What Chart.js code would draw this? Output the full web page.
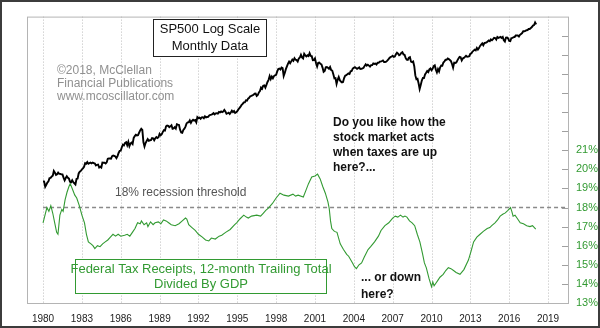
<!DOCTYPE html>
<html lang="en">
<head>
    <meta charset="UTF-8">
    <title>SP500 vs Federal Tax Receipts / GDP</title>
    <script src="https://cdn.jsdelivr.net/npm/chart.js"></script>
    <style>
        body { margin: 0; background: #fff; }
        #frame { width: 600px; height: 328px; box-sizing: border-box; border: 2px solid #3c3c3c; background: #fff; }
        canvas { display: block; }
    </style>
</head>
<body>
    <div id="frame">
        <canvas id="taxChart" width="596" height="324"></canvas>
    </div>

    <script>
        // S&P 500 month-end closes, Jan 1980 .. Feb 2018
        const spxStart = 1980;
        const spxMonthly = [
            114.2, 113.7, 102.1, 106.3, 111.2, 114.2, 121.7, 122.4, 125.5, 127.5, 140.5, 135.8,
            129.6, 131.3, 136.0, 132.8, 132.6, 131.2, 130.9, 122.8, 116.2, 121.9, 126.4, 122.6,
            120.4, 113.1, 112.0, 116.4, 111.9, 109.6, 107.1, 119.5, 120.4, 133.7, 138.5, 140.6,
            145.3, 148.1, 153.0, 164.4, 162.4, 168.1, 162.6, 164.4, 166.1, 163.6, 166.4, 164.9,
            163.4, 157.1, 159.2, 160.1, 150.6, 153.2, 150.7, 166.7, 166.1, 166.1, 163.6, 167.2,
            179.6, 181.2, 180.7, 179.8, 189.6, 191.9, 190.9, 188.6, 182.1, 189.8, 202.2, 211.3,
            211.8, 226.9, 238.9, 235.5, 247.4, 250.8, 236.1, 252.9, 231.3, 244.0, 249.2, 242.2,
            274.1, 284.2, 291.7, 288.4, 290.1, 304.0, 318.7, 329.8, 321.8, 251.8, 230.3, 247.1,
            257.1, 267.8, 258.9, 261.3, 262.2, 273.5, 272.0, 261.5, 271.9, 279.0, 273.7, 277.7,
            297.5, 288.9, 294.9, 309.6, 320.5, 318.0, 346.1, 351.5, 349.2, 340.4, 346.0, 353.4,
            329.1, 331.9, 339.9, 330.8, 361.2, 358.0, 356.2, 322.6, 306.1, 304.0, 322.2, 330.2,
            343.9, 367.1, 375.2, 375.3, 389.8, 371.2, 387.8, 395.4, 387.9, 392.5, 375.2, 417.1,
            408.8, 412.7, 403.7, 415.0, 415.4, 408.1, 424.2, 414.0, 417.8, 418.7, 431.4, 435.7,
            438.8, 443.4, 451.7, 440.2, 450.2, 450.5, 448.1, 463.6, 458.9, 467.8, 461.8, 466.5,
            481.6, 467.1, 445.8, 450.9, 456.5, 444.3, 458.3, 475.5, 462.7, 472.4, 453.7, 459.3,
            470.4, 487.4, 500.7, 514.7, 533.4, 544.8, 562.1, 561.9, 584.4, 581.5, 605.4, 615.9,
            636.0, 640.4, 645.5, 654.2, 669.1, 670.6, 640.0, 652.0, 687.3, 705.3, 757.0, 740.7,
            786.2, 790.8, 757.1, 801.3, 848.3, 885.1, 954.3, 899.5, 947.3, 914.6, 955.4, 970.4,
            980.3, 1049.3, 1101.8, 1111.8, 1090.8, 1133.8, 1120.7, 957.3, 1017.0, 1098.7, 1163.6, 1229.2,
            1279.6, 1238.3, 1286.4, 1335.2, 1301.8, 1372.7, 1328.7, 1320.4, 1282.7, 1362.9, 1388.9, 1469.3,
            1394.5, 1366.4, 1498.6, 1452.4, 1420.6, 1454.6, 1430.8, 1517.7, 1436.5, 1429.4, 1315.2, 1320.3,
            1366.0, 1239.9, 1160.3, 1249.5, 1255.8, 1224.4, 1211.2, 1133.6, 1040.9, 1059.8, 1139.5, 1148.1,
            1130.2, 1106.7, 1147.4, 1076.9, 1067.1, 989.8, 911.6, 916.1, 815.3, 885.8, 936.3, 879.8,
            855.7, 841.2, 848.2, 916.9, 963.6, 974.5, 990.3, 1008.0, 996.0, 1050.7, 1058.2, 1111.9,
            1131.1, 1144.9, 1126.2, 1107.3, 1120.7, 1140.8, 1101.7, 1104.2, 1114.6, 1130.2, 1173.8, 1211.9,
            1181.3, 1203.6, 1180.6, 1156.9, 1191.5, 1191.3, 1234.2, 1220.3, 1228.8, 1207.0, 1249.5, 1248.3,
            1280.1, 1280.7, 1294.8, 1310.6, 1270.1, 1270.2, 1276.7, 1303.8, 1335.9, 1377.9, 1400.6, 1418.3,
            1438.2, 1406.8, 1420.9, 1482.4, 1530.6, 1503.4, 1455.3, 1474.0, 1526.8, 1549.4, 1481.1, 1468.4,
            1378.6, 1330.6, 1322.7, 1385.6, 1400.4, 1280.0, 1267.4, 1282.8, 1166.4, 968.8, 896.2, 903.3,
            825.9, 735.1, 797.9, 872.8, 919.1, 919.3, 987.5, 1020.6, 1057.1, 1036.2, 1095.6, 1115.1,
            1073.9, 1104.5, 1169.4, 1186.7, 1089.4, 1030.7, 1101.6, 1049.3, 1141.2, 1183.3, 1180.6, 1257.6,
            1286.1, 1327.2, 1325.8, 1363.6, 1345.2, 1320.6, 1292.3, 1218.9, 1131.4, 1253.3, 1247.0, 1257.6,
            1312.4, 1365.7, 1408.5, 1397.9, 1310.3, 1362.2, 1379.3, 1406.6, 1440.7, 1412.2, 1416.2, 1426.2,
            1498.1, 1514.7, 1569.2, 1597.6, 1630.7, 1606.3, 1685.7, 1633.0, 1681.6, 1756.5, 1805.8, 1848.4,
            1782.6, 1859.5, 1872.3, 1884.0, 1923.6, 1960.2, 1930.7, 2003.4, 1972.3, 2018.1, 2067.6, 2058.9,
            1995.0, 2104.5, 2067.9, 2085.5, 2107.4, 2063.1, 2103.8, 1972.2, 1920.0, 2079.4, 2080.4, 2043.9,
            1940.2, 1932.2, 2059.7, 2065.3, 2097.0, 2098.9, 2173.6, 2171.0, 2168.3, 2126.2, 2198.8, 2238.8,
            2278.9, 2363.6, 2362.7, 2384.2, 2411.8, 2423.4, 2470.3, 2471.7, 2519.4, 2575.3, 2647.6, 2673.6,
            2823.8, 2713.8
        ];

        // Federal tax receipts (12-mo trailing) / GDP
        const taxDates = [
            1980.0, 1980.15, 1980.3, 1980.45, 1980.6, 1980.75, 1980.9, 1981.05, 1981.15, 1981.3,
            1981.45, 1981.55, 1981.7, 1981.85, 1982.0, 1982.1, 1982.25, 1982.45, 1982.6, 1982.8,
            1983.0, 1983.2, 1983.35, 1983.5, 1983.7, 1983.85, 1984.0, 1984.2, 1984.4, 1984.6,
            1984.8, 1985.0, 1985.2, 1985.4, 1985.6, 1985.8, 1986.0, 1986.3, 1986.5, 1986.7,
            1986.9, 1987.1, 1987.3, 1987.5, 1987.6, 1987.8, 1988.0, 1988.1, 1988.3, 1988.5,
            1988.65, 1988.9, 1989.1, 1989.3, 1989.5, 1989.7, 1989.9, 1990.2, 1990.5, 1990.75,
            1991.0, 1991.1, 1991.25, 1991.5, 1991.75, 1992.0, 1992.3, 1992.55, 1992.8, 1993.0,
            1993.3, 1993.6, 1993.8, 1994.1, 1994.45, 1994.8, 1994.95, 1995.2, 1995.5, 1995.7,
            1995.85, 1996.1, 1996.5, 1996.8, 1997.0, 1997.2, 1997.4, 1997.7, 1998.0, 1998.3,
            1998.6, 1998.95, 1999.3, 1999.5, 1999.7, 2000.1, 2000.3, 2000.5, 2000.75, 2001.0,
            2001.2, 2001.4, 2001.6, 2001.8, 2002.0, 2002.1, 2002.2, 2002.3, 2002.5, 2002.7,
            2002.95, 2003.2, 2003.45, 2003.6, 2003.9, 2004.05, 2004.2, 2004.4, 2004.6, 2004.8,
            2005.1, 2005.3, 2005.6, 2005.9, 2006.1, 2006.4, 2006.7, 2007.0, 2007.2, 2007.4,
            2007.6, 2007.8, 2007.95, 2008.1, 2008.3, 2008.5, 2008.7, 2008.9, 2009.1, 2009.3,
            2009.45, 2009.6, 2009.8, 2010.0, 2010.1, 2010.2, 2010.35, 2010.5, 2010.65, 2010.9,
            2011.1, 2011.3, 2011.5, 2011.7, 2011.9, 2012.2, 2012.5, 2012.85, 2013.05, 2013.25,
            2013.5, 2013.75, 2014.0, 2014.3, 2014.5, 2014.65, 2014.9, 2015.1, 2015.3, 2015.5,
            2015.7, 2015.9, 2016.1, 2016.2, 2016.3, 2016.45, 2016.6, 2016.85, 2017.1, 2017.35,
            2017.6, 2017.8, 2018.05
        ];
        const taxPct = [
            17.2, 17.6, 18.0, 17.8, 18.1, 17.7, 17.2, 16.7, 16.6, 17.6,
            17.9, 17.8, 18.4, 18.8, 19.1, 19.25, 19.0, 18.65, 18.5, 18.1,
            17.6, 17.2, 16.6, 16.2, 16.1, 16.0, 15.85, 16.0, 15.95, 16.1,
            16.2, 16.3, 16.45, 16.6, 16.5, 16.6, 16.5, 16.55, 16.6, 16.5,
            16.7, 16.9, 17.2, 17.15, 17.3, 17.1, 17.2, 17.0, 17.25, 17.1,
            17.2, 17.25, 17.15, 17.35, 17.3, 17.2, 17.1, 17.05, 17.15, 17.3,
            17.45, 17.4, 17.1, 16.95, 16.8, 16.6, 16.45, 16.3, 16.25, 16.4,
            16.35, 16.5, 16.55, 16.7, 16.85, 17.1, 17.2, 17.4, 17.6, 17.5,
            17.45, 17.55, 17.6, 17.55, 17.7, 17.85, 17.97, 18.2, 18.5, 18.75,
            18.65, 18.6, 18.7, 18.6, 18.65, 18.55, 18.9, 19.25, 19.6, 19.65,
            19.75, 19.5, 19.1, 18.75, 18.3, 17.95, 17.3, 16.9, 16.75, 16.7,
            16.1, 15.8, 15.55, 15.45, 15.1, 14.9, 14.8, 15.0, 15.1, 15.4,
            15.8, 15.95, 16.2, 16.5, 16.8, 17.05, 17.2, 17.45, 17.55, 17.5,
            17.6, 17.5, 17.55, 17.5, 17.3, 17.2, 17.05, 16.6, 16.2, 15.6,
            15.1, 14.84, 14.3, 13.85, 14.1, 13.9, 14.05, 14.2, 14.35, 14.5,
            14.7, 14.85, 14.8, 14.7, 14.6, 14.5, 14.75, 15.25, 15.7, 16.2,
            16.45, 16.6, 16.75, 16.9, 16.95, 17.05, 17.2, 17.35, 17.55, 17.65,
            17.72, 17.85, 18.0, 17.8, 17.55, 17.6, 17.45, 17.2, 17.15, 17.05,
            17.0, 17.05, 16.87
        ];

        const yearTicks = [1980, 1983, 1986, 1989, 1992, 1995, 1998, 2001, 2004, 2007, 2010, 2013, 2016, 2019];
        const pctTicks = [13, 14, 15, 16, 17, 18, 19, 20, 21, 22, 23, 24, 25, 26, 27, 28];
        const threshold = 18;

        const xMin = 1978.76, xMax = 2020.54;
        const FONT = "'Liberation Sans', Arial, sans-serif";
        const GREEN = '#329a32';

        const spxPoints = spxMonthly.map((v, i) => ({ x: spxStart + i / 12, y: v }));
        const taxPoints = taxDates.map((d, i) => ({ x: d, y: taxPct[i] }));

        // frame, dotted year lines, inside ticks on the right axis and the text boxes
        const decorations = {
            id: 'decorations',
            beforeDatasetsDraw(chart) {
                const { ctx, chartArea: a, scales } = chart;
                ctx.save();
                ctx.lineWidth = 1;
                ctx.strokeStyle = '#bcbcbc';
                ctx.setLineDash([1, 2]);
                yearTicks.forEach(v => {
                    const x = Math.round(scales.x.getPixelForValue(v)) + 0.5;
                    ctx.beginPath();
                    ctx.moveTo(x, a.top);
                    ctx.lineTo(x, a.bottom);
                    ctx.stroke();
                });
                ctx.setLineDash([]);
                ctx.strokeStyle = '#b4b4b4';
                ctx.strokeRect(a.left + 0.5, a.top + 0.5, a.right - a.left, a.bottom - a.top);
                ctx.strokeStyle = '#a0a0a0';
                pctTicks.forEach(v => {
                    if (v === 13 || v === 28) return;
                    const y = Math.round(scales.y.getPixelForValue(v)) + 0.5;
                    ctx.beginPath();
                    ctx.moveTo(a.right - 6, y);
                    ctx.lineTo(a.right, y);
                    ctx.stroke();
                });
                ctx.restore();
            },
            afterDraw(chart) {
                const ctx = chart.ctx;
                ctx.save();
                ctx.textBaseline = 'middle';

                // SP500 label box
                ctx.fillStyle = '#fff';
                ctx.fillRect(151, 17, 113, 37);
                ctx.strokeStyle = '#222';
                ctx.strokeRect(151.5, 17.5, 113, 37);
                ctx.fillStyle = '#111';
                ctx.font = '13px ' + FONT;
                ctx.textAlign = 'center';
                ctx.fillText('SP500 Log Scale', 208, 27);
                ctx.fillText('Monthly Data', 208, 44);

                // copyright
                ctx.textAlign = 'left';
                ctx.fillStyle = '#909090';
                ctx.font = '12px ' + FONT;
                ctx.fillText('\u00a92018, McClellan', 55, 69);
                ctx.fillText('Financial Publications', 55, 82);
                ctx.fillText('www.mcoscillator.com', 55, 95);

                // threshold label
                ctx.fillStyle = '#555';
                ctx.font = '12px ' + FONT;
                ctx.fillText('18% recession threshold', 113, 191);

                // questions
                ctx.fillStyle = '#111';
                ctx.font = 'bold 12px ' + FONT;
                ctx.fillText('Do you like how the', 331, 121);
                ctx.fillText('stock market acts', 331, 136);
                ctx.fillText('when taxes are up', 331, 151);
                ctx.fillText('here?...', 331, 166);
                ctx.fillText('... or down', 359, 276);
                ctx.fillText('here?', 359, 293);

                // tax series box
                ctx.fillStyle = '#fff';
                ctx.fillRect(73, 257, 251, 34);
                ctx.strokeStyle = GREEN;
                ctx.strokeRect(73.5, 257.5, 251, 34);
                ctx.fillStyle = GREEN;
                ctx.font = '13px ' + FONT;
                ctx.textAlign = 'center';
                ctx.fillText('Federal Tax Receipts, 12-month Trailing Total', 199, 267);
                ctx.fillText('Divided By GDP', 199, 282);
                ctx.restore();
            }
        };

        new Chart(document.getElementById('taxChart'), {
            type: 'line',
            data: {
                datasets: [
                    {
                        label: 'SP500',
                        data: spxPoints,
                        yAxisID: 'spx',
                        borderColor: '#000',
                        borderWidth: 1.9,
                        order: 0
                    },
                    {
                        label: 'Tax receipts / GDP',
                        data: taxPoints,
                        yAxisID: 'y',
                        borderColor: GREEN,
                        borderWidth: 1.1,
                        order: 1
                    },
                    {
                        label: 'threshold',
                        data: [{ x: 1980, y: threshold }, { x: xMax, y: threshold }],
                        yAxisID: 'y',
                        borderColor: '#8a8a8a',
                        borderWidth: 1.6,
                        borderDash: [4, 3],
                        order: 2
                    }
                ]
            },
            options: {
                responsive: false,
                animation: false,
                events: [],
                layout: { padding: { left: 25, top: 7, right: 0, bottom: 0 } },
                elements: { point: { radius: 0 }, line: { tension: 0 } },
                plugins: { legend: { display: false }, tooltip: { enabled: false } },
                scales: {
                    x: {
                        type: 'linear',
                        min: xMin,
                        max: xMax,
                        afterBuildTicks(s) { s.ticks = yearTicks.map(v => ({ value: v })); },
                        afterFit(s) { s.height = 23; },
                        ticks: {
                            callback: v => String(v),
                            color: '#222',
                            font: { family: FONT, size: 10 },
                            padding: 10,
                            maxRotation: 0
                        },
                        grid: { display: false, drawTicks: false },
                        border: { display: false }
                    },
                    y: {
                        position: 'right',
                        min: 13,
                        max: 28,
                        afterBuildTicks(s) { s.ticks = pctTicks.map(v => ({ value: v })); },
                        afterFit(s) { s.width = 30; },
                        ticks: {
                            callback: v => (v <= 21 ? v + '%' : ''),
                            color: GREEN,
                            font: { family: FONT, size: 11 },
                            padding: 8
                        },
                        grid: { display: false, drawTicks: false },
                        border: { display: false }
                    },
                    spx: {
                        type: 'logarithmic',
                        display: false,
                        min: 9.76,
                        max: 3177
                    }
                }
            },
            plugins: [decorations]
        });
    </script>
</body>
</html>
